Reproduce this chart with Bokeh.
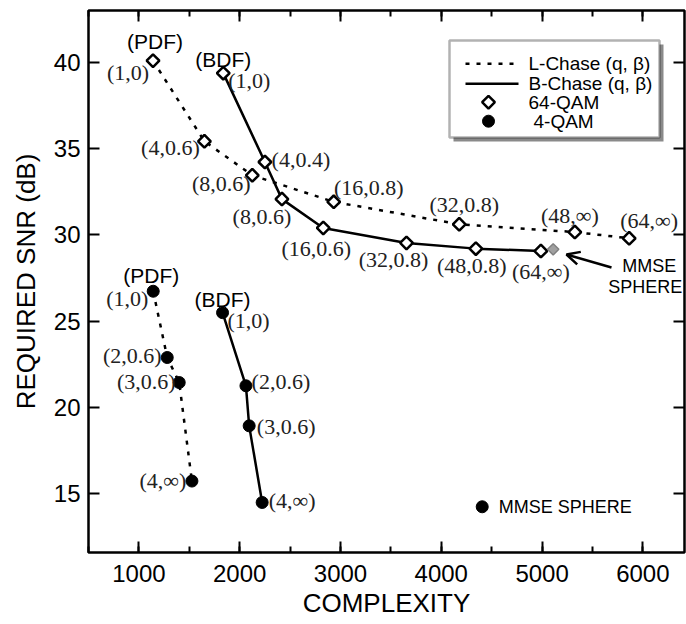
from math import pi
from bokeh.plotting import figure
from bokeh.models import (Range1d, LinearAxis, SingleIntervalTicker, Arrow, OpenHead,
                          BoxAnnotation, CustomJSTickFormatter)
from bokeh.embed import file_html
from bokeh.resources import INLINE
from bokeh.core.properties import value

# ---------------- data ----------------
qam64_pdf_x = [1140, 1650, 2125, 2933, 4178, 5325, 5864]
qam64_pdf_y = [40.1, 35.43, 33.46, 31.92, 30.62, 30.17, 29.81]
qam64_pdf_labels = ["(1,0)", "(4,0.6)", "(8,0.6)", "(16,0.8)", "(32,0.8)", "(48,∞)", "(64,∞)"]

qam64_bdf_x = [1837, 2250, 2419, 2829, 3655, 4343, 4988]
qam64_bdf_y = [39.38, 34.23, 32.08, 30.41, 29.54, 29.21, 29.07]
qam64_bdf_labels = ["(1,0)", "(4,0.4)", "(8,0.6)", "(16,0.6)", "(32,0.8)", "(48,0.8)", "(64,∞)"]

qam64_mmse_x = [5110]
qam64_mmse_y = [29.17]

qam4_pdf_x = [1142, 1281, 1400, 1526]
qam4_pdf_y = [26.74, 22.90, 21.45, 15.74]
qam4_pdf_labels = ["(1,0)", "(2,0.6)", "(3,0.6)", "(4,∞)"]

qam4_bdf_x = [1830, 2062, 2094, 2223]
qam4_bdf_y = [25.50, 21.26, 18.94, 14.50]
qam4_bdf_labels = ["(1,0)", "(2,0.6)", "(3,0.6)", "(4,∞)"]

qam4_mmse_x = [4406]
qam4_mmse_y = [14.25]

legend_labels = ["L-Chase (q, β)", "B-Chase (q, β)", "64-QAM", "4-QAM"]

# label offsets (screen px, relative to each point)
qam64_pdf_dx = [-25, -34, -31, 35, 5, -5, 20]
qam64_pdf_dy = [12, 6, 8, -14, -20, -17, -18]
qam64_bdf_dx = [26, 36, -20, -7, -13, -4, 0]
qam64_bdf_dy = [7, -3, 17, 21, 17, 17, 20]
qam4_pdf_dx = [-26, -35, -33, -29]
qam4_pdf_dy = [7, -2, -1, -1]
qam4_bdf_dx = [26, 35, 37, 30]
qam4_bdf_dy = [8, -4, 1, -2]

SANS = "Liberation Sans"
SERIF = "Liberation Serif"

# ---------------- layout geometry (canvas px) ----------------
W, H = 686, 624
FL, FR, FT, FB = 88, 684, 10, 552          # frame edges
X0, X1 = 500, 6413
Y0, Y1 = 11.6, 43.01


def dx(px):
    return X0 + (px - FL) * (X1 - X0) / (FR - FL)


def dy(py):
    return Y0 + (FB - py) * (Y1 - Y0) / (FB - FT)


p = figure(width=W, height=H, x_range=Range1d(X0, X1), y_range=Range1d(Y0, Y1),
           output_backend="svg", toolbar_location=None,
           min_border_left=FL, min_border_right=W - FR, min_border_top=FT,
           min_border_bottom=H - FB)
p.grid.visible = False
p.outline_line_color = "black"
p.outline_line_width = 2.5
p.background_fill_color = "white"
p.border_fill_color = "white"

xt = SingleIntervalTicker(interval=1000, num_minor_ticks=2)
yt = SingleIntervalTicker(interval=5, num_minor_ticks=0)


def style_axis(ax, labels=True):
    ax.axis_line_color = None
    ax.major_tick_in = 11
    ax.major_tick_out = 0
    ax.minor_tick_in = 6
    ax.minor_tick_out = 0
    ax.major_tick_line_width = 2
    ax.minor_tick_line_width = 2
    ax.major_tick_line_color = "black"
    ax.minor_tick_line_color = "black"
    if labels:
        ax.major_label_text_font = SANS
        ax.major_label_text_font_size = "24px"
        ax.major_label_text_color = "black"
        ax.axis_label_text_font = SANS
        ax.axis_label_text_font_size = "26px"
        ax.axis_label_text_font_style = "normal"
        ax.axis_label_text_color = "black"
    else:
        ax.formatter = CustomJSTickFormatter(code="return ''")
        ax.major_label_standoff = 0


p.xaxis.ticker = xt
p.yaxis.ticker = yt
style_axis(p.xaxis[0])
style_axis(p.yaxis[0])
p.xaxis.axis_label = "COMPLEXITY"
p.yaxis.axis_label = "REQUIRED SNR (dB)"
p.xaxis.major_label_standoff = 12
p.xaxis.axis_label_standoff = 3
p.yaxis.major_label_standoff = 8
p.yaxis.axis_label_standoff = 10

top = LinearAxis(ticker=xt)
style_axis(top, labels=False)
p.add_layout(top, "above")
right = LinearAxis(ticker=yt)
style_axis(right, labels=False)
p.add_layout(right, "right")

# ---------------- lines ----------------
DOT = "4 7"
p.line(qam64_pdf_x, qam64_pdf_y, line_color="black", line_width=2.5, line_dash=DOT)
p.line(qam64_bdf_x, qam64_bdf_y, line_color="black", line_width=2.5)
p.line(qam4_pdf_x, qam4_pdf_y, line_color="black", line_width=2.5, line_dash=DOT)
p.line(qam4_bdf_x, qam4_bdf_y, line_color="black", line_width=2.5)

# ---------------- markers ----------------
dia_kw = dict(marker="square", angle=pi / 4, size=9, fill_color="white",
              line_color="black", line_width=2.5)
dot_kw = dict(marker="circle", size=12, fill_color="black", line_color="black")
p.scatter(qam64_pdf_x, qam64_pdf_y, **dia_kw)
p.scatter(qam64_bdf_x, qam64_bdf_y, **dia_kw)
p.scatter(qam64_mmse_x, qam64_mmse_y, marker="square", angle=pi / 4, size=8,
          fill_color="#a0a0a0", line_color="#808080", line_width=1.5)
p.scatter(qam4_pdf_x, qam4_pdf_y, **dot_kw)
p.scatter(qam4_bdf_x, qam4_bdf_y, **dot_kw)
p.scatter(qam4_mmse_x, qam4_mmse_y, **dot_kw)

# ---------------- point labels ----------------
lab_kw = dict(text_font=value(SERIF), text_font_size="22px", text_color="#222222",
              text_align="center", text_baseline="middle")
p.text(x=qam64_pdf_x, y=qam64_pdf_y, text=qam64_pdf_labels, x_offset=qam64_pdf_dx, y_offset=qam64_pdf_dy, **lab_kw)
p.text(x=qam64_bdf_x, y=qam64_bdf_y, text=qam64_bdf_labels, x_offset=qam64_bdf_dx, y_offset=qam64_bdf_dy, **lab_kw)
p.text(x=qam4_pdf_x, y=qam4_pdf_y, text=qam4_pdf_labels, x_offset=qam4_pdf_dx, y_offset=qam4_pdf_dy, **lab_kw)
p.text(x=qam4_bdf_x, y=qam4_bdf_y, text=qam4_bdf_labels, x_offset=qam4_bdf_dx, y_offset=qam4_bdf_dy, **lab_kw)

head_kw = dict(text_font=value(SANS), text_font_size="21px", text_color="black",
               text_align="center", text_baseline="middle")
p.text(x=[qam64_pdf_x[0], qam64_bdf_x[0], qam4_pdf_x[0], qam4_bdf_x[0]],
       y=[qam64_pdf_y[0], qam64_bdf_y[0], qam4_pdf_y[0], qam4_bdf_y[0]],
       text=["(PDF)", "(BDF)", "(PDF)", "(BDF)"],
       x_offset=[2, 0, -2, 0], y_offset=[-19, -14, -16, -13], **head_kw)

mm_kw = dict(text_font=value(SANS), text_font_size="18px", text_color="black",
             text_align="center", text_baseline="middle")
p.text(x=[qam64_mmse_x[0], qam64_mmse_x[0]], y=[qam64_mmse_y[0], qam64_mmse_y[0]],
       text=["MMSE", "SPHERE"], x_offset=[96, 92], y_offset=[17, 38], **mm_kw)
p.text(x=qam4_mmse_x, y=qam4_mmse_y, text=["MMSE SPHERE"], x_offset=[83], y_offset=[0], **mm_kw)

p.add_layout(Arrow(end=OpenHead(size=13, line_width=2.5, line_color="black"),
                   x_start=dx(611), y_start=dy(267), x_end=dx(566), y_end=dy(254),
                   line_width=2.5, line_color="black"))

# ---------------- legend (drawn by hand) ----------------
p.add_layout(BoxAnnotation(left=dx(453), right=dx(663), top=dy(44), bottom=dy(141),
                           fill_color="#8a8a8a", fill_alpha=1.0, line_color=None,
                           level="underlay"))
p.add_layout(BoxAnnotation(left=dx(449), right=dx(659), top=dy(40), bottom=dy(137),
                           fill_color="white", fill_alpha=1.0, line_color="black",
                           line_width=2.5, level="underlay"))
row_y = [dy(63.3), dy(83.3), dy(101.7), dy(120.7)]
p.segment(x0=[dx(465)], y0=[row_y[0]], x1=[dx(518)], y1=[row_y[0]],
          line_color="black", line_width=2.5, line_dash=DOT)
p.segment(x0=[dx(465)], y0=[row_y[1]], x1=[dx(518)], y1=[row_y[1]],
          line_color="black", line_width=2.5)
p.scatter([dx(488)], [row_y[2]], **dia_kw)
p.scatter([dx(488)], [row_y[3]], **dot_kw)
p.text(x=[dx(528), dx(528), dx(528), dx(533)], y=row_y, text=legend_labels,
       text_font=value(SANS), text_font_size="19px", text_color="black",
       text_align="left", text_baseline="middle")

open("out.html", "w").write(file_html(p, INLINE))
